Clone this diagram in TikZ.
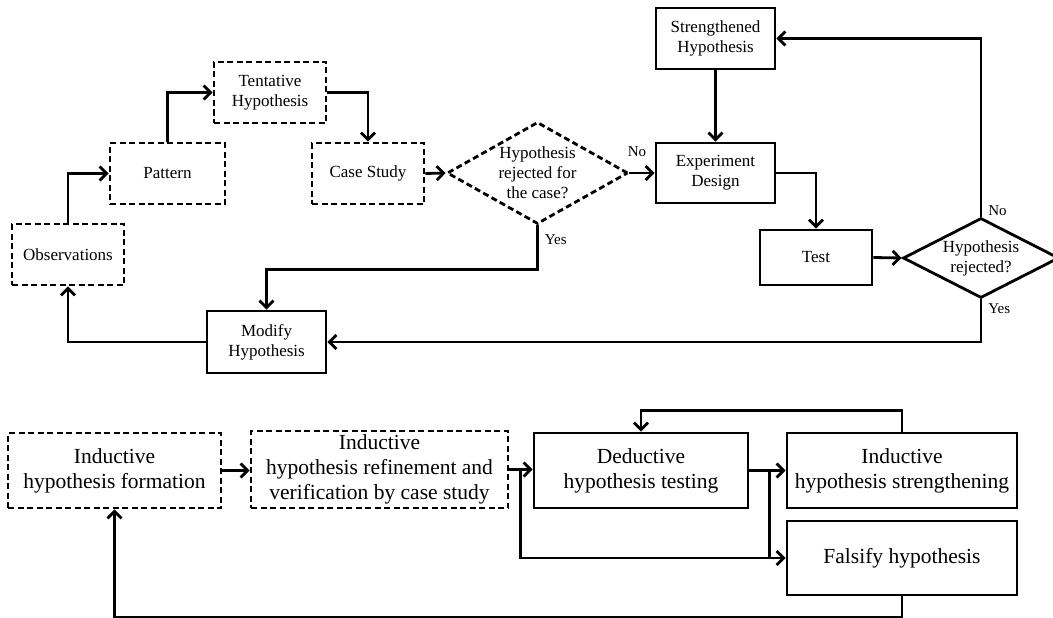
\documentclass[tikz,border=0pt]{standalone}
\usepackage{fontspec}
\setmainfont{Liberation Serif}
\usetikzlibrary{arrows.meta,shapes.geometric,calc}
\begin{document}
\begin{tikzpicture}[x=1pt,y=-1pt,line width=2.8pt,
  arr/.style={-{Straight Barb[length=7pt,width=14pt]}},
  box/.style={draw,rectangle,inner sep=0pt,align=center,
    font=\fontsize{17}{20}\selectfont},
  dbox/.style={box,dash pattern=on 6pt off 3.5pt},
  bigbox/.style={draw,rectangle,inner sep=0pt,align=center,
    font=\fontsize{21.5}{25}\selectfont},
  dbigbox/.style={bigbox,dash pattern=on 6pt off 3.5pt},
  dec/.style={draw,diamond,inner sep=0pt},
  dectext/.style={align=center,inner sep=0pt,font=\fontsize{17}{20}\selectfont},
  lab/.style={inner sep=0pt,anchor=west,font=\fontsize{15}{17}\selectfont}]

\fill[white] (0,0) rectangle (1053,618);
\useasboundingbox (0,0) rectangle (1053,618);

% ---------- upper flow chart ----------
\node[dbox,minimum width=112,minimum height=61] (obs) at (68,254.5) {Observations};
\node[dbox,minimum width=115,minimum height=61] (pat) at (167.5,173.5) {Pattern};
\node[dbox,minimum width=112,minimum height=61] (tent) at (270,92.5) {Tentative\\Hypothesis};
\node[dbox,minimum width=112,minimum height=61] (case) at (368,173.5) {Case Study};
\node[dec,dash pattern=on 6pt off 3.5pt,minimum width=181,minimum height=102,
  label={[dectext]center:Hypothesis\\rejected for\\the case?}] (dia1) at (537.5,173) {};
\node[box,minimum width=119,minimum height=61] (strong) at (715.5,38.5) {Strengthened\\Hypothesis};
\node[box,minimum width=119,minimum height=60] (exp) at (715.5,173) {Experiment\\Design};
\node[box,minimum width=112,minimum height=55] (test) at (816,257.5) {Test};
\node[dec,minimum width=156,minimum height=80,
  label={[dectext]center:Hypothesis\\rejected?}] (dia2) at (981,258) {};
\node[box,minimum width=119,minimum height=62] (mod) at (266.5,342) {Modify\\Hypothesis};

\draw[arr] (obs.north) |- (pat.west);
\draw[arr] (pat.north) |- (tent.west);
\draw[arr] (tent.east) -| (case.north);
\draw[arr] (case.east) -- (dia1.west);
\draw[arr] (dia1.east) -- (exp.west);
\node[lab] (no1) at ($(dia1.east)+(-3,-21)$) {No};
\draw[arr] (strong.south) -- (exp.north);
\draw[arr] (exp.east) -| (test.north);
\draw[arr] (test.east) -- (dia2.west);
\draw[arr] (dia2.north) |- (strong.east);
\node[lab] (no2) at ($(dia2.north)+(6,-6)$) {No};
\draw[arr] (dia2.south) |- (mod.east);
\node[lab] (yes2) at ($(dia2.south)+(6,9)$) {Yes};
\coordinate (yesbend) at ($(dia1.south)+(0,44)$);
\draw[arr] (dia1.south) -- (yesbend) -| (mod.north);
\node[lab] (yes1) at ($(dia1.south)+(6,14)$) {Yes};
\draw[arr] (mod.west) -| (obs.south);

% ---------- lower overview ----------
\node[dbigbox,minimum width=213,minimum height=75] (ihf) at (114.5,470.5)
  {Inductive\\hypothesis formation};
\node[dbigbox,minimum width=257,minimum height=77] (ihr) at (379.5,469.5)
  {Inductive\\hypothesis refinement and\\verification by case study};
\node[bigbox,minimum width=214,minimum height=75] (ded) at (641,470.5)
  {Deductive\\hypothesis testing};
\node[bigbox,minimum width=230,minimum height=75] (str) at (902,470.5)
  {Inductive\\hypothesis strengthening};
\node[bigbox,minimum width=230,minimum height=74] (fal) at (902,558)
  {Falsify hypothesis};

\draw[arr] (ihf.east) -- (ihf.east -| ihr.west);
\draw[arr] (ihr.east) -- (ihr.east -| ded.west);
\coordinate (j1) at ($(ihr.east)+(11,0)$);
\draw[arr] (j1) |- (fal.west);
\draw[arr] (ded.east) -- (ded.east -| str.west);
\coordinate (j2) at ($(ded.east)+(20,0)$);
\draw (j2) -- (j2 |- fal.west);
\draw[arr] (str.north) -- ++(0,-21) -| (ded.north);
\draw[arr] (fal.south) -- ++(0,21) -| (ihf.south);
\end{tikzpicture}
\end{document}
